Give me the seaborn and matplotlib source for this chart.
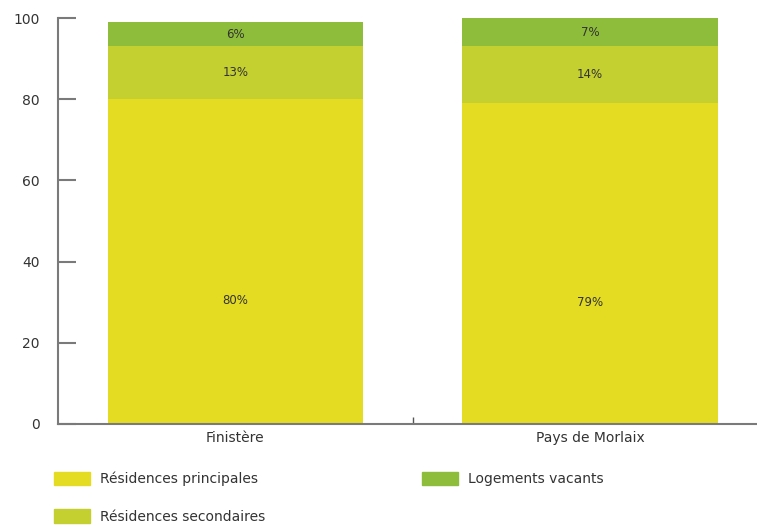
import matplotlib
matplotlib.use('Agg')
import matplotlib.pyplot as plt
import matplotlib.patches as mpatches
import seaborn as sns
import numpy as np
import pandas as pd

territoires = ['Finistère', 'Pays de Morlaix']
principales = [80, 79]
secondaires = [13, 14]
vacants = [6, 7]

labels_series = ['Résidences principales', 'Résidences secondaires', 'Logements vacants']
colors = ['#e4dc22', '#c4cf30', '#8dbd3a']

sns.set_style('white')
plt.rcParams['font.family'] = ['DejaVu Sans']

df = pd.DataFrame({'territoire': territoires,
                   'principales': principales,
                   'secondaires': secondaires,
                   'vacants': vacants})
df['cum2'] = df['principales'] + df['secondaires']
df['cum3'] = df['cum2'] + df['vacants']

fig = plt.figure(figsize=(7.57, 5.25), dpi=100)
ax = fig.add_axes([0.0766, 0.1924, 0.9234, 0.7733])

# stacked look: draw cumulative totals from the top down
sns.barplot(x='territoire', y='cum3', data=df, color=colors[2], width=0.72,
            saturation=1, linewidth=0, ax=ax)
sns.barplot(x='territoire', y='cum2', data=df, color=colors[1], width=0.72,
            saturation=1, linewidth=0, ax=ax)
sns.barplot(x='territoire', y='principales', data=df, color=colors[0], width=0.72,
            saturation=1, linewidth=0, ax=ax)

for i, row in df.iterrows():
    ax.text(i, row.principales * 0.38, '%d%%' % row.principales,
            ha='center', va='center', fontsize=8.5, color='#333333')
    ax.text(i, row.principales + row.secondaires / 2, '%d%%' % row.secondaires,
            ha='center', va='center', fontsize=8.5, color='#333333')
    ax.text(i, row.cum2 + row.vacants / 2, '%d%%' % row.vacants,
            ha='center', va='center', fontsize=8.5, color='#333333')

ax.set_xlim(-0.5, 1.47)
ax.set_ylim(0, 100)
ax.set_yticks([0, 20, 40, 60, 80, 100])
ax.set_xlabel('')
ax.set_ylabel('')
sns.despine(ax=ax)
for s in ['left', 'bottom']:
    ax.spines[s].set_color('#7a7a7a')
    ax.spines[s].set_linewidth(1.5)

ax.tick_params(axis='y', direction='in', length=13, width=1.5, color='#7a7a7a',
               pad=13, labelsize=10, labelcolor='#333333', left=True)
ax.tick_params(axis='x', which='major', length=0, pad=5, labelsize=10,
               labelcolor='#333333')
ax.set_xticks([0.5], minor=True)
ax.tick_params(axis='x', which='minor', direction='in', length=5, width=1,
               color='#555555', bottom=True)

handles = [mpatches.Patch(color=c, label=l) for c, l in zip(colors, labels_series)]
fig.legend(handles=handles, ncol=2, loc='upper left', bbox_to_anchor=(0.0713, 0.101),
           frameon=False, fontsize=10, handlelength=2.6, handleheight=1.1,
           labelspacing=1.65, columnspacing=11.3, handletextpad=0.7,
           borderpad=0, borderaxespad=0, labelcolor='#333333')

fig.savefig('out.png', dpi=100)
